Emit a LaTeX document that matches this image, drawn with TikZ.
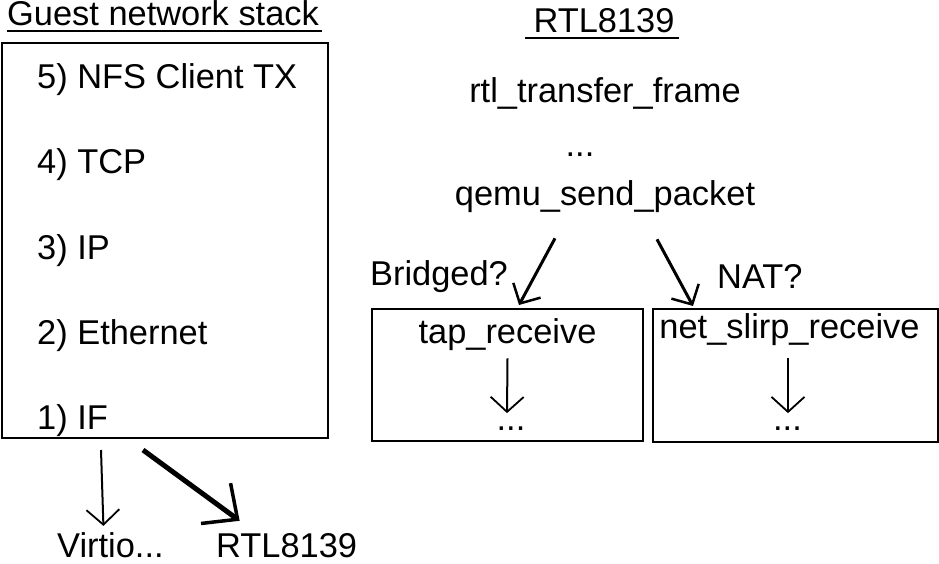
\documentclass[tikz,border=0pt]{standalone}
\usepackage{fontspec}
\setmainfont{Liberation Sans}
\usetikzlibrary{arrows.meta}
\tikzset{
  lbl/.style={inner sep=0pt, font=\fontsize{34.4}{40}\selectfont},
  frame/.style={draw, line width=2pt, inner sep=0pt},
  thinarrow/.style={line width=2pt, -{Straight Barb[length=15pt,width=33pt,line width=1.8pt]}},
  midarrow/.style={line width=3pt, -{Straight Barb[length=15pt,width=31pt,line width=2.5pt]}},
  fatarrow/.style={line width=5pt, -{Straight Barb[length=27pt,width=50pt,line width=3.5pt]}},
}
\begin{document}
\begin{tikzpicture}[x=1pt,y=-1pt]
\useasboundingbox (0,0) rectangle (939,564);
%
\node[lbl,anchor=base west](guest) at (7,26) {Guest network stack};
\draw[line width=2pt] ([yshift=-5pt]guest.base west) -- ([xshift=3pt,yshift=-5pt]guest.base east);
%
\node[frame,minimum width=326pt,minimum height=395pt](stack) at (165,240.5) {};
\node[lbl,anchor=base west](nfs) at (37,89) {5) NFS Client TX};
\node[lbl,anchor=base west](tcp) at (37,174) {4) TCP};
\node[lbl,anchor=base west](ip) at (37,259) {3) IP};
\node[lbl,anchor=base west](eth) at (37,344) {2) Ethernet};
\node[lbl,anchor=base west](if) at (37,429) {1) IF};
%
\node[lbl,anchor=base west](virtio) at (57,557) {Virtio...};
\node[lbl,anchor=base west](rtlnic) at (216,557) {RTL8139};
\draw[thinarrow] ([xshift=-64pt,yshift=-11pt]stack.south) -- ([xshift=-7pt,yshift=6pt]virtio.north);
\draw[fatarrow] ([xshift=-22pt,yshift=-11pt]stack.south) -- ([xshift=-47pt,yshift=12pt]rtlnic.north);
%
\node[lbl,anchor=base](rtltitle) at (604,33) {RTL8139};
\draw[line width=2pt] ([xshift=-8pt,yshift=-5pt]rtltitle.base west) -- ([xshift=4pt,yshift=-5pt]rtltitle.base east);
%
\node[lbl,anchor=base](transfer) at (605,103) {rtl\_transfer\_frame};
\node[lbl,anchor=base](dots) at (580,157) {...};
\node[lbl,anchor=base](qemu) at (605,205) {qemu\_send\_packet};
%
\node[frame,minimum width=271pt,minimum height=132pt](tap) at (507.5,375) {};
\node[frame,minimum width=285pt,minimum height=133pt](slirp) at (795.5,375.5) {};
%
\node[lbl,anchor=base west](bridged) at (370,285) {Bridged?};
\node[lbl,anchor=base west](nat) at (717,288) {NAT?};
\draw[midarrow] ([xshift=-50pt,yshift=-26pt]qemu.south) -- ([xshift=11.5pt,yshift=3pt]tap.north);
\draw[midarrow] ([xshift=52pt,yshift=-27pt]qemu.south) -- ([xshift=-102.5pt,yshift=2pt]slirp.north);
%
\node[lbl,anchor=base](tapfn) at (507.5,343) {tap\_receive};
\node[lbl,anchor=base](tapdots) at (511,430) {...};
\draw[thinarrow] ([yshift=-8pt]tapfn.south) -- ([xshift=-4pt,yshift=13pt]tapdots.north);
%
\node[lbl,anchor=base](slirpfn) at (789.5,338) {net\_slirp\_receive};
\node[lbl,anchor=base](slirpdots) at (787.5,430) {...};
\draw[thinarrow] ([xshift=-1.5pt,yshift=-13pt]slirpfn.south) -- ([xshift=0.5pt,yshift=13pt]slirpdots.north);
\end{tikzpicture}
\end{document}
